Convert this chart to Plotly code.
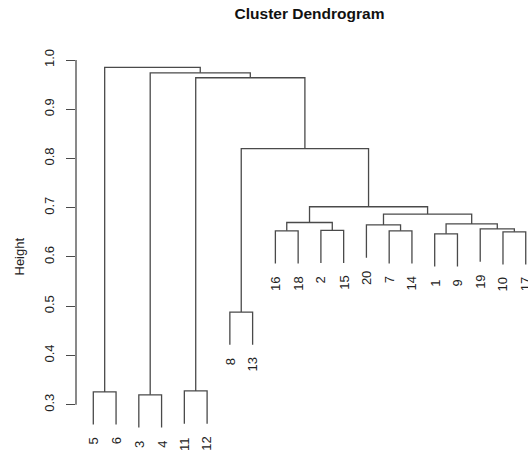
import plotly.graph_objects as go

# Leaf labels in plotted order (left to right)
leaf_order = [5, 6, 3, 4, 11, 12, 8, 13, 16, 18, 2, 15, 20, 7, 14, 1, 9, 19, 10, 17]

# Merge table (R hclust style): negative = leaf label, positive = earlier merge (1-based)
merge_a = [-3, -5, -11, -8, -1, -10, -16, -7, -2, -19, -20, 5, 7, 11, 13, 4, 3, 1, 2]
merge_b = [-4, -6, -12, -13, -9, -17, -18, -14, -15, 6, 8, 10, 9, 12, 14, 15, 16, 17, 18]
heights = [0.320, 0.326, 0.328, 0.488, 0.647, 0.651, 0.653, 0.653, 0.654, 0.657,
           0.665, 0.667, 0.670, 0.687, 0.702, 0.820, 0.964, 0.974, 0.985]

y_ticks = [0.3, 0.4, 0.5, 0.6, 0.7, 0.8, 0.9, 1.0]
y_tick_text = ["0.3", "0.4", "0.5", "0.6", "0.7", "0.8", "0.9", "1.0"]

title_text = "Cluster Dendrogram"
y_title = "Height"

hang = 0.1 * (max(heights) - min(heights))
pos = {lab: i + 1 for i, lab in enumerate(leaf_order)}
node_x = {}
leaf_bottom = {}

xs, ys = [], []
for k, h in enumerate(heights):
    pts = []
    for c in (merge_a[k], merge_b[k]):
        if c < 0:
            cx, cy = pos[-c], h - hang
            leaf_bottom[-c] = cy
        else:
            cx, cy = node_x[c], heights[c - 1]
        pts.append((cx, cy))
    (xa, ya), (xb, yb) = pts
    xs += [xa, xa, xb, xb, None]
    ys += [ya, h, h, yb, None]
    node_x[k + 1] = (xa + xb) / 2

FONT = "Liberation Sans, Arial, Helvetica, sans-serif"
LINE = "#4a4a4a"

fig = go.Figure()
fig.add_trace(go.Scatter(x=xs, y=ys, mode="lines", line=dict(color=LINE, width=1.3),
                         hoverinfo="skip", showlegend=False, cliponaxis=False))

annotations = []
for lab in leaf_order:
    annotations.append(dict(x=pos[lab], y=leaf_bottom[lab], xref="x", yref="y",
                            text=str(lab), textangle=-90, showarrow=False,
                            xanchor="center", yanchor="top", yshift=-11,
                            font=dict(family=FONT, size=13, color="#222")))

W, H = 528, 453
L, R, T, B = 76, 0, 53, 0
pxx = 22.76
pxy = 492.4
x0 = 1 - (93.3 - L) / pxx
x1 = x0 + (W - L - R) / pxx
y1 = 1.0 + (60 - T) / pxy
y0 = 1.0 - (H - B - 60) / pxy

annotations.append(dict(x=(19 - L) / (W - L - R), y=1 - (256.5 - T) / (H - T - B),
                        xref="paper", yref="paper", text=y_title,
                        showarrow=False, textangle=-90,
                        font=dict(family=FONT, size=13, color="#222"),
                        xanchor="center", yanchor="middle"))

fig.update_layout(
    width=W, height=H,
    margin=dict(l=L, r=R, t=T, b=B),
    paper_bgcolor="white", plot_bgcolor="white",
    title=dict(text="<b>" + title_text + "</b>", x=(309.5 - L) / (W - L - R), xref="paper",
               xanchor="center", y=1 - 14 / H, yanchor="middle",
               font=dict(family=FONT, size=15.5, color="#111")),
    xaxis=dict(range=[x0, x1], visible=False, showgrid=False, zeroline=False),
    yaxis=dict(range=[y0, y1], tickvals=y_ticks, ticktext=y_tick_text, tickangle=-90,
               ticks="outside", ticklen=9, tickwidth=1, tickcolor=LINE,
               showline=False, showgrid=False, zeroline=False,
               tickfont=dict(family=FONT, size=13, color="#222"), ticklabelstandoff=7),
    annotations=annotations,
    shapes=[dict(type="line", xref="paper", yref="y", x0=0, x1=0, y0=0.3, y1=1.0,
                 line=dict(color=LINE, width=1.3))],
    showlegend=False,
)

fig.write_html("out.html")
